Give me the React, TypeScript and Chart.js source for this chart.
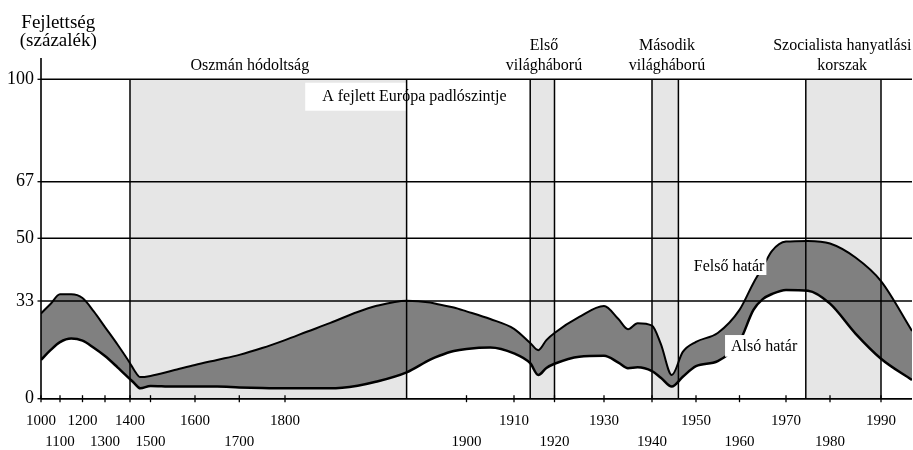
import { useEffect, useRef } from 'react';
import { Chart, LinearScale, registerables } from 'chart.js';

// ---------- data ----------
const YEARS = [
  1000, 1050, 1100, 1150, 1200, 1250, 1300, 1350, 1400, 1420, 1450, 1500, 1550, 1600, 1650, 1700, 1750,
  1800, 1812, 1825, 1840, 1850, 1867, 1880, 1885, 1893, 1900, 1905, 1910, 1914, 1916, 1918, 1920, 1925,
  1930, 1933, 1935, 1937, 1940, 1942, 1944.5, 1947, 1950, 1955, 1960, 1963, 1965, 1967, 1970, 1975,
  1980, 1985, 1990, 1996,
];
const UPPER = [
  28.8, 32.0, 34.8, 34.8, 33.8, 29.5, 24.2, 18.3, 12.0, 9.7, 7.3, 7.7, 9.5, 11.4, 13.1, 14.8, 17.1,
  19.8, 22.6, 25.6, 29.3, 31.3, 33.1, 32.5, 31.8, 30.8, 29.5, 26.9, 23.6, 18.8, 16.4, 19.8, 22.2, 27.6,
  31.3, 26.9, 23.5, 25.5, 24.7, 18.5, 8.0, 15.8, 19.2, 22.2, 30.0, 37.9, 42.2, 46.6, 49.1, 49.3,
  48.6, 44.8, 38.4, 22.9,
];
const LOWER = [
  13.1, 16.4, 19.1, 20.3, 19.6, 17.2, 14.4, 10.6, 6.6, 5.3, 3.5, 4.3, 4.1, 4.1, 4.1, 3.8, 3.6,
  3.5, 3.5, 3.5, 4.4, 5.7, 8.9, 13.2, 14.5, 16.1, 16.8, 17.3, 15.3, 12.0, 8.0, 10.4, 11.8, 14.2,
  14.5, 12.2, 10.3, 10.6, 9.3, 7.1, 4.1, 7.4, 11.0, 12.7, 19.3, 30.0, 33.5, 34.9, 36.0, 35.8,
  32.1, 22.0, 13.5, 6.3,
];

const X_TICKS = [1000, 1100, 1200, 1300, 1400, 1500, 1600, 1700, 1800, 1900, 1910, 1920, 1930, 1940, 1950, 1960, 1970, 1980, 1990];
const Y_TICKS = [0, 33, 50, 67, 100];

// periods shown as shaded bands [from, to]
const PERIOD_FROM = [1400, 1914, 1940, 1974.5];
const PERIOD_TO = [1867, 1920, 1946, 1990];

// period captions
const CAPTIONS = [
  { lines: ['Oszmán hódoltság'], year: 1723, value: 103.1 },
  { lines: ['Első', 'világháború'], year: 1917.4, value: 109.6 },
  { lines: ['Második', 'világháború'], year: 1943.4, value: 109.6 },
  { lines: ['Szocialista hanyatlási', 'korszak'], year: 1982.4, value: 109.6 },
];
const BOXED = [
  { text: 'A fejlett Európa padlószintje', year: 1871.3, value: 93.1 },
  { text: 'Felső határ', year: 1957.6, value: 41.0 },
  { text: 'Alsó határ', year: 1965.3, value: 16.1 },
];
const AXIS_TITLE = { lines: ['Fejlettség', '(százalék)'], year: 1091, value: 117.0 };

// ---------- non-uniform axis breaks: [value, fraction of axis length] ----------
const BREAKS: Record<string, number[][]> = {
  x: [
    [1000, 0], [1100, 0.021814], [1200, 0.047646], [1300, 0.073479], [1400, 0.102181],
    [1500, 0.125718], [1600, 0.176808], [1700, 0.227669], [1800, 0.280138], [1900, 0.488519],
    [1910, 0.543054], [1920, 0.589552], [1930, 0.646383], [1940, 0.701493], [1950, 0.752009],
    [1960, 0.801952], [1970, 0.855339], [1980, 0.905855], [1990, 0.964409], [1996, 1],
  ],
  y: [[0, 0], [33, 0.28676], [50, 0.4708], [67, 0.63692], [100, 0.93748], [107, 1]],
};

function interp(v: number, pairs: number[][], a: number, b: number) {
  const n = pairs.length;
  let k = 0;
  while (k < n - 2 && v > pairs[k + 1][a]) k++;
  const p = pairs[k];
  const q = pairs[k + 1];
  return p[b] + ((v - p[a]) * (q[b] - p[b])) / (q[a] - p[a]);
}

class PiecewiseScale extends LinearScale {
  static id = 'piecewise';
  static defaults = LinearScale.defaults;
  getPixelForValue(value: any) {
    if (value === null || value === undefined || isNaN(value)) return NaN;
    return this.getPixelForDecimal(interp(value, BREAKS[this.axis], 0, 1));
  }
  getValueForPixel(pixel: number) {
    return interp(this.getDecimalForPixel(pixel), BREAKS[this.axis], 1, 0);
  }
}

Chart.register(...registerables, PiecewiseScale);

const FONT = '"Liberation Serif", "Times New Roman", serif';
const BAND = '#e6e6e6';
const FILL = '#808080';
const INK = '#000000';

const overlay = {
  id: 'overlay',
  beforeDatasetsDraw(chart: any) {
    const { ctx, scales } = chart;
    const x = scales.x;
    const y = scales.y;
    const top = y.getPixelForValue(100);
    const bottom = y.getPixelForValue(0);
    ctx.save();
    ctx.fillStyle = BAND;
    PERIOD_FROM.forEach((f, i) => {
      const x0 = x.getPixelForValue(f);
      const x1 = x.getPixelForValue(PERIOD_TO[i]);
      ctx.fillRect(x0, top, x1 - x0, bottom - top);
    });
    ctx.restore();
  },
  afterDatasetsDraw(chart: any) {
    const { ctx, scales, chartArea } = chart;
    const x = scales.x;
    const y = scales.y;
    ctx.save();
    // white label boxes
    ctx.font = `16px ${FONT}`;
    const pads = [
      { l: 17, r: 17, t: 18, b: 10 },
      { l: 3, r: 2, t: 16.5, b: 3.5 },
      { l: 6, r: 6, t: 16, b: 5.7 },
    ];
    BOXED.forEach((bx, i) => {
      const w = ctx.measureText(bx.text).width;
      const cx = x.getPixelForValue(bx.year);
      const by = y.getPixelForValue(bx.value);
      const p = pads[i];
      ctx.fillStyle = '#ffffff';
      ctx.fillRect(cx - w / 2 - p.l, by - p.t, w + p.l + p.r, p.t + p.b);
    });

    // horizontal grid lines
    ctx.strokeStyle = INK;
    ctx.lineWidth = 1.4;
    Y_TICKS.forEach((v) => {
      const py = y.getPixelForValue(v);
      ctx.beginPath();
      ctx.moveTo(chartArea.left, py);
      ctx.lineTo(chartArea.right, py);
      ctx.stroke();
    });
    // vertical period lines
    const top = y.getPixelForValue(100);
    const bottom = y.getPixelForValue(0);
    ctx.lineWidth = 1.5;
    [...PERIOD_FROM, ...PERIOD_TO].forEach((v) => {
      const px = x.getPixelForValue(v);
      ctx.beginPath();
      ctx.moveTo(px, top);
      ctx.lineTo(px, bottom);
      ctx.stroke();
    });
    // axes
    ctx.lineWidth = 1.6;
    ctx.beginPath();
    ctx.moveTo(chartArea.left, chartArea.top);
    ctx.lineTo(chartArea.left, chartArea.bottom);
    ctx.moveTo(chartArea.left, chartArea.bottom);
    ctx.lineTo(chartArea.right, chartArea.bottom);
    ctx.stroke();
    // tick marks
    ctx.lineWidth = 1.3;
    X_TICKS.forEach((v) => {
      const px = x.getPixelForValue(v);
      ctx.beginPath();
      ctx.moveTo(px, chartArea.bottom - 3.5);
      ctx.lineTo(px, chartArea.bottom + 3.5);
      ctx.stroke();
    });
    Y_TICKS.forEach((v) => {
      const py = y.getPixelForValue(v);
      ctx.beginPath();
      ctx.moveTo(chartArea.left - 3.5, py);
      ctx.lineTo(chartArea.left, py);
      ctx.stroke();
    });

    // texts
    ctx.fillStyle = INK;
    ctx.textAlign = 'center';
    ctx.textBaseline = 'alphabetic';
    ctx.font = `16px ${FONT}`;
    BOXED.forEach((bx) => {
      ctx.fillText(bx.text, x.getPixelForValue(bx.year), y.getPixelForValue(bx.value));
    });
    CAPTIONS.forEach((c) => {
      const cx = x.getPixelForValue(c.year);
      const by = y.getPixelForValue(c.value);
      c.lines.forEach((ln, i) => ctx.fillText(ln, cx, by + i * 20));
    });
    ctx.font = `19px ${FONT}`;
    const tx = x.getPixelForValue(AXIS_TITLE.year);
    const ty = y.getPixelForValue(AXIS_TITLE.value);
    AXIS_TITLE.lines.forEach((ln, i) => ctx.fillText(ln, tx, ty + i * 18));
    ctx.restore();
  },
};

export default function App() {
  const ref = useRef<HTMLCanvasElement>(null);
  useEffect(() => {
    const lower = YEARS.map((yr, i) => ({ x: yr, y: LOWER[i] }));
    const upper = YEARS.map((yr, i) => ({ x: yr, y: UPPER[i] }));
    const chart = new Chart(ref.current as HTMLCanvasElement, {
      type: 'line',
      data: {
        datasets: [
          {
            label: 'Alsó határ',
            data: lower,
            borderColor: INK,
            borderWidth: 2.5,
            pointRadius: 0,
            fill: false,
            cubicInterpolationMode: 'monotone',
          },
          {
            label: 'Felső határ',
            data: upper,
            borderColor: INK,
            borderWidth: 2,
            pointRadius: 0,
            fill: '-1',
            backgroundColor: FILL,
            cubicInterpolationMode: 'monotone',
          },
        ],
      },
      options: {
        animation: false,
        responsive: true,
        maintainAspectRatio: false,
        events: [],
        layout: { padding: { top: 58, right: 1, left: 0, bottom: 0 } },
        plugins: { legend: { display: false }, tooltip: { enabled: false }, title: { display: false } },
        scales: {
          x: {
            type: 'piecewise',
            min: 1000,
            max: 1996,
            bounds: 'data',
            grid: { display: false, drawTicks: false },
            border: { display: false },
            ticks: {
              autoSkip: false,
              maxRotation: 0,
              minRotation: 0,
              padding: 12,
              color: INK,
              font: { family: FONT, size: 15, lineHeight: 1.4 },
              callback: (v: any, i: number) => (i % 2 === 0 ? [String(v), ''] : ['', String(v)]),
            },
            afterBuildTicks: (s: any) => {
              s.ticks = X_TICKS.map((v) => ({ value: v }));
            },
            afterFit: (s: any) => {
              s.height = 51.3;
            },
          },
          y: {
            type: 'piecewise',
            min: 0,
            max: 107,
            bounds: 'data',
            grid: { display: false, drawTicks: false },
            border: { display: false },
            ticks: {
              autoSkip: false,
              padding: 7,
              color: INK,
              font: { family: FONT, size: 18 },
              callback: (v: any) => String(v),
            },
            afterBuildTicks: (s: any) => {
              s.ticks = Y_TICKS.map((v) => ({ value: v }));
            },
            afterFit: (s: any) => {
              s.width = 41;
            },
          },
        },
      } as any,
      plugins: [overlay],
    } as any);
    return () => chart.destroy();
  }, []);
  return (
    <div style={{ position: 'fixed', left: 0, top: 0, width: 913, height: 450, background: '#fff' }}>
      <canvas ref={ref} />
    </div>
  );
}
